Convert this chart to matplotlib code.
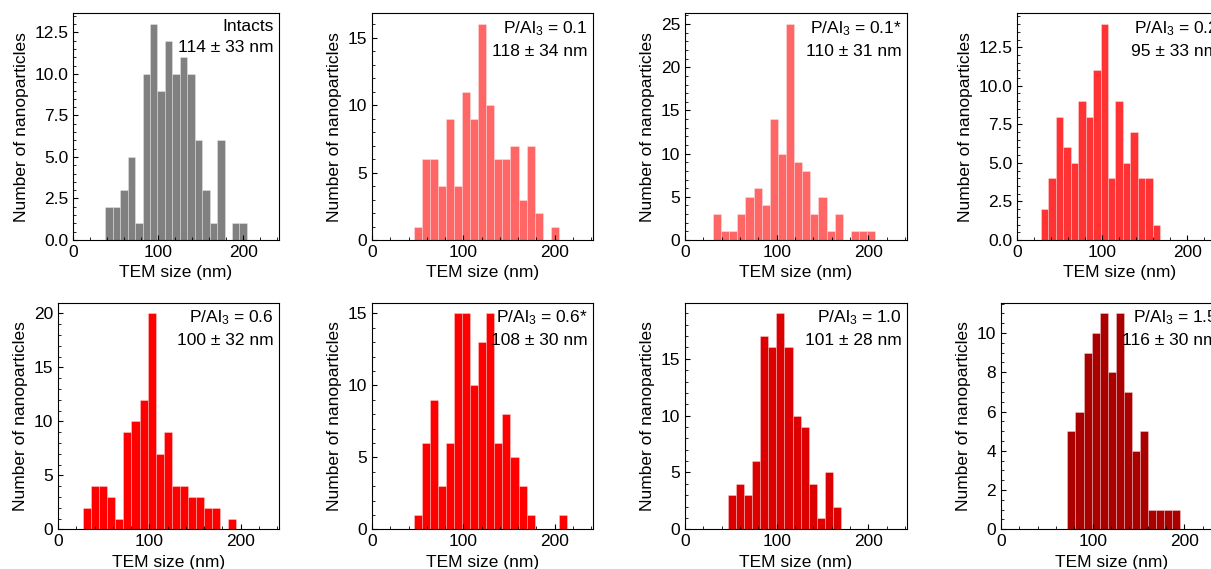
import numpy as np
import matplotlib
matplotlib.use('Agg')
import matplotlib.pyplot as plt

plt.rcParams['font.family'] = ['Liberation Sans', 'DejaVu Sans']
plt.rcParams['mathtext.default'] = 'regular'
plt.rcParams['font.size'] = 12.5

# Panel labels
names = ['Intacts', 'P/Al$_3$ = 0.1', 'P/Al$_3$ = 0.1*', 'P/Al$_3$ = 0.2',
         'P/Al$_3$ = 0.6', 'P/Al$_3$ = 0.6*', 'P/Al$_3$ = 1.0', 'P/Al$_3$ = 1.5']
sizes = ['114 ± 33 nm', '118 ± 34 nm', '110 ± 31 nm', '95 ± 33 nm',
         '100 ± 32 nm', '108 ± 30 nm', '101 ± 28 nm', '116 ± 30 nm']
colors = ['#808080', '#ff6666', '#ff6666', '#ff3333',
          '#ff0000', '#ff0000', '#dd0000', '#aa0000']

# Histogram bins (nm): first edge and bin width for each panel
bin_start = [38.0, 45.8, 30.5, 28.2, 27.5, 45.8, 46.5, 72.4]
bin_width = [8.75, 8.82, 8.84, 8.74, 8.83, 8.82, 8.84, 8.77]

# Counts per bin
counts_intacts = [2, 2, 3, 5, 1, 10, 13, 9, 12, 10, 11, 10, 6, 3, 1, 6, 0, 1, 1]
counts_01 = [1, 6, 6, 4, 9, 4, 11, 9, 16, 10, 6, 6, 7, 3, 7, 2, 0, 1]
counts_01s = [3, 1, 1, 3, 5, 6, 4, 14, 10, 25, 9, 8, 3, 5, 1, 3, 0, 1, 1, 1]
counts_02 = [2, 4, 8, 6, 5, 9, 8, 11, 14, 4, 9, 5, 7, 4, 4, 1]
counts_06 = [2, 4, 4, 3, 1, 9, 10, 12, 20, 7, 9, 4, 4, 3, 3, 2, 2, 0, 1]
counts_06s = [1, 6, 9, 3, 6, 15, 15, 10, 13, 15, 6, 8, 5, 3, 1, 0, 0, 0, 1]
counts_10 = [3, 4, 3, 6, 17, 16, 19, 16, 10, 9, 4, 1, 5, 2]
counts_15 = [5, 6, 9, 10, 11, 8, 11, 7, 4, 5, 1, 1, 1, 1]

all_counts = [counts_intacts, counts_01, counts_01s, counts_02,
              counts_06, counts_06s, counts_10, counts_15]

W, H = 1211, 569
fig = plt.figure(figsize=(W / 100, H / 100), dpi=100)

# axes boxes in pixels (left, width); each panel was laid out on its own
boxes = [(73, 206), (372, 221), (685, 222), (1017, 206),
         (58, 221), (372, 221), (685, 222), (1001, 222)]
row_bottom = [240, 529.3]
ax_h = 226.7

for i in range(8):
    left, width = boxes[i]
    bottom = row_bottom[i // 4]
    ax = fig.add_axes([left / W, 1 - bottom / H, width / W, ax_h / H])

    counts = np.array(all_counts[i], dtype=float)
    edges = bin_start[i] + bin_width[i] * np.arange(len(counts) + 1)
    ax.hist(edges[:-1], bins=edges, weights=counts, color=colors[i],
            edgecolor=(1, 1, 1, 0.35), linewidth=0.6)

    ax.set_xlim(0, 242)
    ax.set_xticks([0, 100, 200])
    ax.minorticks_on()
    ax.tick_params(direction='in', which='both')
    ax.set_xlabel('TEM size (nm)')
    ax.set_ylabel('Number of nanoparticles')

    ax.text(0.975, 0.975, names[i] + '\n' + sizes[i], transform=ax.transAxes,
            ha='right', va='top', linespacing=1.5)

plt.savefig('out.png', dpi=100)
